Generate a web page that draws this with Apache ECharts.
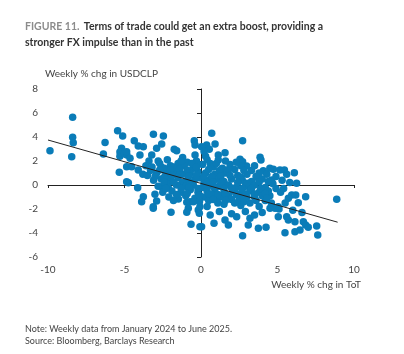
<!DOCTYPE html>
<html>
<head>
<meta charset="utf-8">
<script src="https://cdn.jsdelivr.net/npm/echarts@6/dist/echarts.min.js"></script>
<style>
  html, body { margin: 0; padding: 0; background: #fff; }
  #main { width: 404px; height: 354px; }
</style>
</head>
<body>
<div id="main"></div>
<script>
// weekly % chg in ToT (x) vs weekly % chg in USDCLP (y)
var points = [
  // far left
  [-9.87, 2.86], [-8.39, 5.64], [-8.39, 3.97], [-8.35, 3.53], [-8.45, 2.36],
  [-6.27, 3.55], [-6.38, 2.58], [-5.45, 4.53], [-5.12, 4.08], [-5.19, 3.06],
  [-5.3, 2.75], [-5.3, 2.4], [-5.0, 2.6], [-4.85, 2.5], [-5.34, 1.06],
  [-4.86, 1.53], [-4.75, 0.19], [-4.86, 2.78], [-4.64, 2.22], [-4.86, 0.28],
  // left, upper
  [-4.36, 3.69], [-4.1, 3.25], [-3.77, 3.19], [-3.99, 2.5], [-3.22, 2.5],
  [-4.53, 1.53], [-4.1, 1.25], [-3.11, 4.22], [-3.4, 2.0], [-3.6, 1.6],
  [-3.3, 1.2], [-3.8, 0.9],
  // left, lower
  [-4.14, -0.22], [-3.77, -0.97], [-3.88, -1.39], [-3.01, -0.78], [-2.9, -1.33],
  [-3.12, -1.81], [-3.12, -1.94], [-2.57, -0.14], [-2.14, -0.22], [-1.48, -1.17],
  [-1.96, -2.28], [-0.93, -1.44], [-0.83, -1.94], [-0.93, -2.28], [-0.65, -3.28],
  [-0.18, -2.08], [-0.07, -1.81], [-0.07, -3.47], [-0.72, -1.4], [-0.11, -2.36],
  // middle, upper
  [-2.57, 3.42], [-2.9, 3.06], [-1.75, 2.97], [-1.59, 2.86], [-0.44, 3.69],
  [-0.39, 3.33], [-0.39, 2.5], [-2.46, 4.08], [-2.8, 2.0], [-2.2, 2.1],
  [-1.2, 2.3], [-0.9, 1.9], [-1.5, 1.8], [-2.0, 1.6], [-2.6, 1.5], [-0.3, 2.0],
  // right of zero, upper
  [0.7, 4.31], [2.72, 3.69], [0.37, 3.33], [0.92, 3.42], [0.54, 2.97],
  [1.57, 2.69], [0.04, 3.19], [1.13, 2.5], [1.13, 2.08], [2.55, 2.14],
  [2.72, 1.94], [2.98, 1.58], [3.86, 2.31], [3.92, 2.08], [4.07, 1.19],
  [4.73, 1.31], [5.16, 1.25], [3.64, 0.64], [0.3, 2.4], [0.6, 1.8],
  [1.9, 1.7], [2.2, 1.3], [0.2, 2.8],
  // far right
  [5.45, 1.25], [6.1, 1.03], [6.25, 0.14], [8.87, -1.19], [6.84, -0.97],
  [6.36, -1.47], [5.93, -0.83], [6.19, -0.83], [5.71, -1.11], [5.05, -1.81],
  [5.1, -2.0], [5.05, -2.64], [5.6, -2.64], [5.71, -2.92], [6.14, -3.06],
  [6.69, -3.06], [6.84, -3.33], [7.01, -3.53], [7.56, -3.42], [5.49, -3.97],
  [6.14, -3.89], [6.47, -3.75], [7.63, -4.17], [4.62, 0.42], [5.3, 0.4],
  [5.8, 0.2], [4.9, -0.3], [5.2, -0.6], [4.5, -0.9], [4.84, -1.94],
  [4.51, -1.94], [5.5, -1.5], [6.0, -2.1], [6.6, -2.3],
  // right of zero, lower
  [2.72, -4.22], [0.85, -3.19], [0.04, -3.47], [3.09, -3.33], [3.75, -3.61],
  [4.25, -3.53], [1.57, -2.92], [1.79, -3.33], [2.33, -2.64], [3.2, -2.78],
  [0.6, -2.5], [1.2, -2.2], [2.0, -2.4], [2.9, -2.2], [3.5, -2.5],
  [4.0, -2.3], [3.8, -1.8], [2.6, -1.7], [1.5, -1.6], [0.4, -1.8],
  [3.2, -1.5], [4.2, -1.3], [3.0, -1.0], [2.0, -1.2], [1.0, -1.1],
  // dense centre
  [-3.2, 1.5], [-2.4, 1.4], [-1.8, 1.5], [-1.1, 1.6], [-0.5, 1.4], [0.1, 1.7],
  [0.8, 1.5], [1.4, 1.4], [2.6, 1.6], [3.3, 1.2], [-0.2, 1.1],
  [-3.5, 0.8], [-2.9, 1.0], [-2.3, 0.9], [-1.7, 1.1], [-1.2, 0.9], [-0.7, 1.0],
  [0.3, 1.0], [0.9, 0.9], [1.6, 1.0], [2.4, 0.8], [3.0, 0.9], [4.3, 0.9],
  [1.2, 1.2], [-0.1, 0.6],
  [-3.1, 0.4], [-2.6, 0.5], [-2.0, 0.5], [-1.5, 0.6], [-0.9, 0.4], [-0.4, 0.5],
  [0.5, 0.4], [1.0, 0.5], [1.5, 0.3], [2.0, 0.5], [2.7, 0.4], [3.3, 0.3],
  [4.0, 0.5], [-1.2, 0.2], [0.2, 0.2],
  [-2.8, -0.1], [-2.2, 0.1], [-1.6, 0.0], [-1.0, -0.1], [-0.5, 0.0], [0.1, -0.2],
  [0.6, 0.0], [1.2, -0.1], [1.8, 0.0], [2.3, -0.2], [2.9, -0.1], [3.5, 0.0],
  [4.2, -0.2], [4.7, 0.1],
  [-2.5, -0.6], [-1.9, -0.5], [-1.3, -0.6], [-0.7, -0.4], [-0.2, -0.6], [0.4, -0.5],
  [0.9, -0.4], [1.5, -0.6], [2.1, -0.5], [2.6, -0.7], [3.2, -0.5], [3.8, -0.6],
  [4.4, -0.5],
  [-2.1, -1.0], [-1.0, -0.9], [-0.4, -1.1], [0.2, -1.0], [0.7, -0.8], [1.3, -1.0],
  [1.8, -0.9], [2.5, -1.2], [3.5, -1.0], [4.0, -0.9],
  [-0.1, -1.4], [0.5, -1.3], [1.1, -1.5], [2.2, -1.5], [2.8, -1.4], [4.6, -1.5],
  // more of the dense centre
  [-2.7, 1.8], [-1.3, 2.0], [-0.6, 1.8], [0.4, 2.1], [1.0, 1.8], [1.6, 2.0],
  [2.3, 1.9], [3.5, 1.6],
  [-2.7, 1.25], [-2.0, 1.2], [-1.4, 1.3], [-0.9, 1.25], [-0.3, 1.5], [0.5, 1.3],
  [1.8, 1.3], [2.8, 1.2], [3.8, 1.0], [4.5, 1.4],
  [-3.0, 0.7], [-2.4, 0.65], [-1.9, 0.8], [-1.4, 0.85], [-0.8, 0.75], [-0.3, 0.8],
  [0.2, 0.75], [0.7, 0.7], [1.3, 0.75], [1.9, 0.8], [2.6, 0.65], [3.6, 0.7],
  [4.9, 0.7], [5.6, 0.9],
  [-2.4, 0.25], [-1.8, 0.25], [-0.7, 0.2], [0.4, 0.2], [0.8, 0.25], [1.3, 0.2],
  [2.4, 0.2], [3.0, 0.15], [3.8, 0.25], [4.4, 0.3],
  [-2.3, -0.3], [-1.3, -0.3], [-0.8, -0.2], [-0.2, -0.3], [0.4, -0.2], [0.9, -0.2],
  [1.5, -0.3], [2.0, -0.25], [2.7, -0.3], [3.3, -0.3], [3.9, -0.3], [5.4, -0.3],
  [-1.6, -0.8], [-0.9, -0.7], [-0.1, -0.85], [0.5, -0.75], [1.1, -0.8], [1.6, -0.75],
  [2.3, -0.8], [2.9, -0.75], [3.5, -0.75], [4.2, -0.7],
  [-1.8, -1.3], [-0.5, -1.4], [0.8, -1.2], [1.6, -1.3], [2.8, -1.15], [3.6, -1.3],
  [4.3, -1.1]
];
// fitted regression line ends
var fitLine = [[-10, 3.75], [8.93, -3.1]];

var xMin = -10, xMax = 10, xStep = 5;
var yMin = -6, yMax = 8, yStep = 2;

var myChart = echarts.init(document.getElementById('main'));
var option = {
  animation: false,
  textStyle: { fontFamily: 'Lato' },
  title: [
    {
      left: 20,
      top: 13,
      text: '{a|FIGURE 11.} {b|Terms of trade could get an extra boost, providing a}\n{b|stronger FX impulse than in the past}',
      textStyle: {
        rich: {
          a: { color: '#8c8c8c', fontWeight: 'bold', fontSize: 10.5, fontFamily: 'Lato', lineHeight: 14 },
          b: { color: '#333', fontWeight: 'bold', fontSize: 10.5, fontFamily: 'Lato', lineHeight: 14 }
        }
      }
    },
    {
      left: 20,
      top: 318,
      text: 'Note: Weekly data from January 2024 to June 2025.\nSource: Bloomberg, Barclays Research',
      textStyle: { color: '#444', fontSize: 9, fontWeight: 'normal', fontFamily: 'Lato', lineHeight: 12 }
    }
  ],
  grid: { left: 48, right: 50, top: 89, bottom: 97 },
  xAxis: [
    {
      // labels along the bottom
      type: 'value', min: xMin, max: xMax, interval: xStep,
      axisLine: { show: false, onZero: false },
      axisTick: { show: false },
      splitLine: { show: false },
      axisLabel: { color: '#444', fontSize: 10, margin: 8 },
      name: 'Weekly % chg in ToT',
      nameLocation: 'end',
      nameGap: 7,
      nameTextStyle: { color: '#444', fontSize: 10, align: 'right', verticalAlign: 'top', padding: [23, 0, 0, 0] }
    },
    {
      // axis line through y = 0
      type: 'value', min: xMin, max: xMax, interval: xStep,
      position: 'bottom',
      axisLine: { show: true, onZero: true, lineStyle: { color: '#222', width: 1 } },
      axisTick: { show: true, length: 3, lineStyle: { color: '#222' } },
      axisLabel: { show: false },
      splitLine: { show: false }
    }
  ],
  yAxis: [
    {
      type: 'value', min: yMin, max: yMax, interval: yStep,
      axisLine: { show: false, onZero: false },
      axisTick: { show: false },
      splitLine: { show: false },
      axisLabel: { color: '#444', fontSize: 10, margin: 10 },
      name: 'Weekly % chg in USDCLP',
      nameLocation: 'end',
      nameGap: 10,
      nameTextStyle: { color: '#444', fontSize: 10, align: 'left', verticalAlign: 'bottom', padding: [0, 0, 0, -3] }
    },
    {
      // axis line through x = 0
      type: 'value', min: yMin, max: yMax, interval: yStep,
      position: 'left',
      axisLine: { show: true, onZero: true, lineStyle: { color: '#222', width: 1 } },
      axisTick: { show: true, length: 4, lineStyle: { color: '#222' } },
      axisLabel: { show: false },
      splitLine: { show: false }
    }
  ],
  series: [
    {
      type: 'scatter',
      data: points,
      symbolSize: 7.5,
      itemStyle: { color: '#0a7cb8', opacity: 1 }
    },
    {
      type: 'line',
      data: fitLine,
      symbol: 'none',
      lineStyle: { color: '#222', width: 1 },
      z: 3
    }
  ]
};
myChart.setOption(option);
</script>
</body>
</html>
